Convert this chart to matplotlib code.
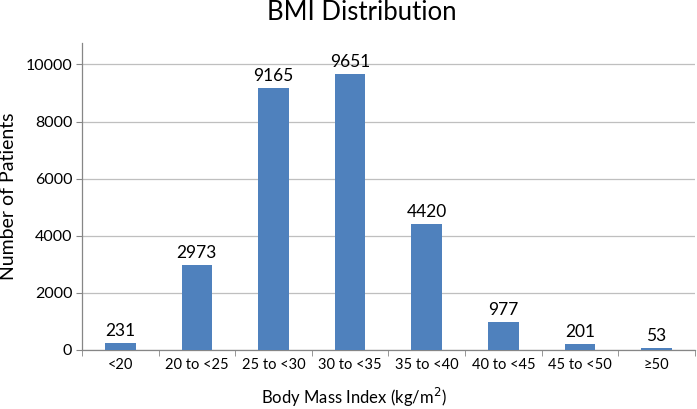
import matplotlib
matplotlib.use("Agg")
import matplotlib.pyplot as plt
import numpy as np

# BMI categories and patient counts
CATEGORIES = ["<20", "20 to <25", "25 to <30", "30 to <35", "35 to <40",
              "40 to <45", "45 to <50", "\u226550"]
COUNTS = [231, 2973, 9165, 9651, 4420, 977, 201, 53]
Y_TICKS = [0, 2000, 4000, 6000, 8000, 10000]

BAR_COLOR = "#4F81BD"
AXIS_COLOR = "#868686"
GRID_COLOR = "#BFBFBF"

plt.rcParams["font.family"] = ["Lato", "DejaVu Sans"]

fig = plt.figure(figsize=(6.97, 4.09), dpi=100)
ax = fig.add_axes([0.1176, 0.1443, 0.8794, 0.7506])

x = np.arange(len(CATEGORIES))
ax.bar(x, COUNTS, width=0.4, color=BAR_COLOR, zorder=3)

for xi, v in zip(x, COUNTS):
    ax.annotate(f"{v}", (xi, v), xytext=(0, 3), textcoords="offset points",
                ha="center", va="bottom", fontsize=12.5, color="black")

ax.set_xlim(-0.5, len(CATEGORIES) - 0.5)
ax.set_ylim(0, 10750)
ax.set_yticks(Y_TICKS)
ax.set_yticklabels([str(t) for t in Y_TICKS], fontsize=11.5)
ax.set_xticks(x)
ax.set_xticklabels(CATEGORIES, fontsize=10.5)
ax.tick_params(axis="x", which="major", length=0, pad=6)
ax.set_xticks(np.arange(len(CATEGORIES) + 1) - 0.5, minor=True)
ax.tick_params(axis="x", which="minor", length=4, color=AXIS_COLOR)
ax.tick_params(axis="y", length=4, color=AXIS_COLOR, pad=3)

ax.yaxis.grid(True, color=GRID_COLOR, linewidth=0.9, zorder=0)
ax.set_axisbelow(True)
for s in ("top", "right"):
    ax.spines[s].set_visible(False)
for s in ("left", "bottom"):
    ax.spines[s].set_color(AXIS_COLOR)
    ax.spines[s].set_linewidth(0.9)

ax.set_ylabel("Number of Patients", fontsize=14, labelpad=6)
fig.text(0.508, 0.012, "Body Mass Index (kg/m$^{2}$)", fontsize=12,
         ha="center", va="baseline")
fig.text(0.519, 0.951, "BMI Distribution", fontsize=18.5,
         ha="center", va="baseline")

fig.savefig("out.png", dpi=100)
